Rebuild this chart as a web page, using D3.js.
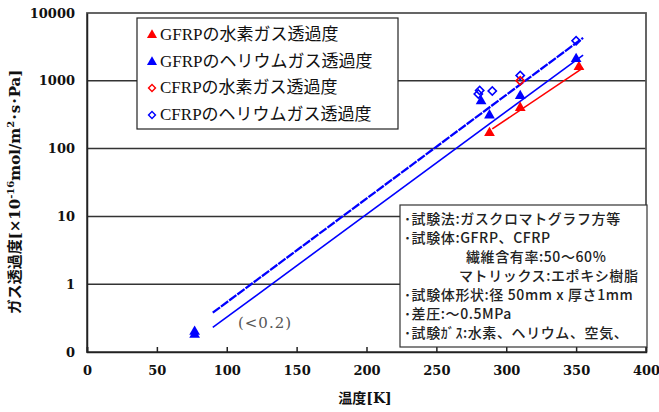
<!DOCTYPE html>
<html>
<head>
<meta charset="utf-8">
<script src="https://cdn.jsdelivr.net/npm/d3@7"></script>
<style>
  body { margin: 0; background: #fff; }
  svg { display: block; }
</style>
</head>
<body>
<script>
// values (temperature K, permeability x1e-16 mol/m2.s.Pa)
var gfrpH2 = [[288, 170], [310, 400], [352, 1600]];
var gfrpHe = [[77, 0.18], [77, 0.2], [282, 500], [288, 310], [310, 600], [350, 2100]];
var cfrpH2 = [[310, 1000]];
var cfrpHe = [[280, 640], [281, 720], [290, 710], [310, 1200], [350, 3900]];

// fitted lines
var fitHeUpper = [[90, 0.38], [355, 4300]];
var fitHeLower = [[90, 0.23], [355, 2400]];
var fitH2 = [[290, 195], [355, 1550]];

var xTicks = [0, 50, 100, 150, 200, 250, 300, 350, 400];
var yTicks = [0.1, 1, 10, 100, 1000, 10000];
var yTickLabels = ["0", "1", "10", "100", "1000", "10000"];

var legendNames = ["GFRPの水素ガス透過度", "GFRPのヘリウムガス透過度", "CFRPの水素ガス透過度", "CFRPのヘリウムガス透過度"];

var noteLines = [
	"･試験法:ガスクロマトグラフ方等",
	"･試験体:GFRP、CFRP",
	"繊維含有率:50～60%",
	"マトリックス:エポキシ樹脂",
	"･試験体形状:径 50mm x 厚さ1mm",
	"･差圧:～0.5MPa",
	"･試験ｶﾞｽ:水素、ヘリウム、空気、"
];

var width = 659;
var height = 412;
var plotL = 87, plotR = 646, plotT = 13, plotB = 352;
var red = "#ff0000";
var blue = "#0000ff";
var numFont = '"DejaVu Serif", "Noto Sans CJK JP", serif';

var svg = d3.select("body")
			.append("svg")
			.attr("width", width)
			.attr("height", height);

var x = d3.scaleLinear()
			.domain([0, 400])
			.range([plotL, plotR]);

var y = d3.scaleLog()
			.domain([0.1, 10000])
			.range([plotB, plotT]);

// grid lines
svg.selectAll("line.grid")
	.data([1, 10, 100, 1000])
	.enter()
	.append("line")
	.attr("class", "grid")
	.attr("x1", plotL)
	.attr("x2", plotR)
	.attr("y1", function(d) { return y(d) })
	.attr("y2", function(d) { return y(d) })
	.style("stroke", "#333")
	.style("stroke-width", 1.5);

// frame
svg.append("rect")
	.attr("x", plotL)
	.attr("y", plotT)
	.attr("width", plotR - plotL)
	.attr("height", plotB - plotT)
	.style("fill", "none")
	.style("stroke", "#555")
	.style("stroke-width", 1.8);

// x axis
var xAxis = d3.axisBottom(x)
			.tickValues(xTicks)
			.tickSize(-5)
			.tickPadding(14);
var xg = svg.append("g")
			.attr("transform", "translate(0," + plotB + ")")
			.call(xAxis);
xg.select(".domain").style("stroke", "#222").style("stroke-width", 1.5);
xg.selectAll(".tick line").style("stroke", "#222").style("stroke-width", 1.5);
xg.selectAll("text")
	.style("font-family", numFont)
	.style("font-weight", "bold")
	.style("font-size", "13px")
	.style("fill", "#111");

// y axis
var yAxis = d3.axisLeft(y)
			.tickValues(yTicks)
			.tickFormat(function(d, i) { return yTickLabels[i] })
			.tickSize(0)
			.tickPadding(12);
var yg = svg.append("g")
			.attr("transform", "translate(" + plotL + ",0)")
			.call(yAxis);
yg.select(".domain").style("stroke", "#222").style("stroke-width", 1.5);
yg.selectAll("text")
	.style("font-family", numFont)
	.style("font-weight", "bold")
	.style("font-size", "13px")
	.style("fill", "#111");

// axis titles
svg.append("text")
	.attr("x", 365)
	.attr("y", 403)
	.attr("text-anchor", "middle")
	.style("font-family", numFont)
	.style("font-weight", "bold")
	.style("font-size", "14px")
	.style("fill", "#111")
	.text("温度[K]");

var ylab = svg.append("text")
	.attr("transform", "translate(20,192) rotate(-90)")
	.attr("text-anchor", "middle")
	.style("font-family", numFont)
	.style("font-weight", "bold")
	.style("font-size", "15px")
	.style("fill", "#111");
ylab.append("tspan").text("ガス透過度[×10");
ylab.append("tspan").attr("dy", -6).style("font-size", "10px").text("-16");
ylab.append("tspan").attr("dy", 6).text("mol/m");
ylab.append("tspan").attr("dy", -6).style("font-size", "10px").text("2");
ylab.append("tspan").attr("dy", 6).text("･s･Pa]");

// fitted lines
var line = d3.line()
			.x(function(d) { return x(d[0]) })
			.y(function(d) { return y(d[1]) });

svg.append("path")
	.attr("d", line(fitHeUpper))
	.style("fill", "none")
	.style("stroke", blue)
	.style("stroke-width", 2.3)
	.style("stroke-dasharray", "9,1.2");
svg.append("path")
	.attr("d", line(fitHeLower))
	.style("fill", "none")
	.style("stroke", blue)
	.style("stroke-width", 1.6);
svg.append("path")
	.attr("d", line(fitH2))
	.style("fill", "none")
	.style("stroke", red)
	.style("stroke-width", 1.6);

// markers
var tri = d3.symbol().type(d3.symbolTriangle).size(50);
var dia = d3.symbol().type(d3.symbolSquare).size(34);

function drawSeries(data, filled, color) {
	svg.append("g")
		.selectAll("path")
		.data(data)
		.enter()
		.append("path")
		.attr("d", filled ? tri : dia)
		.attr("transform", function(d) {
			return "translate(" + x(d[0]) + "," + y(d[1]) + ")" + (filled ? "" : " rotate(45)");
		})
		.style("fill", filled ? color : "none")
		.style("stroke", color)
		.style("stroke-width", filled ? 0 : 1.6);
}

drawSeries(cfrpHe, false, blue);
drawSeries(cfrpH2, false, red);
drawSeries(gfrpH2, true, red);
drawSeries(gfrpHe, true, blue);

// "(<0.2)" note
svg.append("text")
	.attr("x", 265)
	.attr("y", 328)
	.attr("text-anchor", "middle")
	.style("font-family", '"DejaVu Serif", serif')
	.style("font-size", "15px")
	.style("fill", "#555")
	.style("letter-spacing", "1px")
	.text("(<0.2)");

// legend
var legend = svg.append("g");
legend.append("rect")
	.attr("x", 137)
	.attr("y", 18)
	.attr("width", 261)
	.attr("height", 111)
	.style("fill", "#fff")
	.style("stroke", "#222")
	.style("stroke-width", 1.2);

var legendY = [34, 61, 87, 114];
var legendStyle = [[true, red], [true, blue], [false, red], [false, blue]];
var legTri = d3.symbol().type(d3.symbolTriangle).size(44);
var legDia = d3.symbol().type(d3.symbolSquare).size(24);

legendNames.forEach(function(name, i) {
	var filled = legendStyle[i][0];
	var c = legendStyle[i][1];
	legend.append("path")
		.attr("d", filled ? legTri : legDia)
		.attr("transform", "translate(152," + (legendY[i] + 1) + ")" + (filled ? "" : " rotate(45)"))
		.style("fill", filled ? c : "#fff")
		.style("stroke", c)
		.style("stroke-width", filled ? 0 : 1.4);
	legend.append("text")
		.attr("x", 160)
		.attr("y", legendY[i] + 6)
		.style("font-family", '"Liberation Serif", "Noto Sans CJK JP", serif')
		.style("font-size", "17px")
		.style("fill", "#111")
		.text(name);
});

// test condition box
var note = svg.append("g");
note.append("rect")
	.attr("x", 400)
	.attr("y", 205)
	.attr("width", 247)
	.attr("height", 142)
	.style("fill", "#fff")
	.style("stroke", "#333")
	.style("stroke-width", 1.2);

var noteX = [404, 404, 466, 459, 404, 404, 404];
noteLines.forEach(function(t, i) {
	note.append("text")
		.attr("x", noteX[i])
		.attr("y", 224 + i * 19)
		.style("font-family", '"Noto Sans CJK JP", sans-serif')
		.style("font-size", "14px")
		.style("font-weight", 500)
		.style("letter-spacing", "0.6px")
		.style("fill", "#222")
		.text(t);
});
</script>
</body>
</html>
